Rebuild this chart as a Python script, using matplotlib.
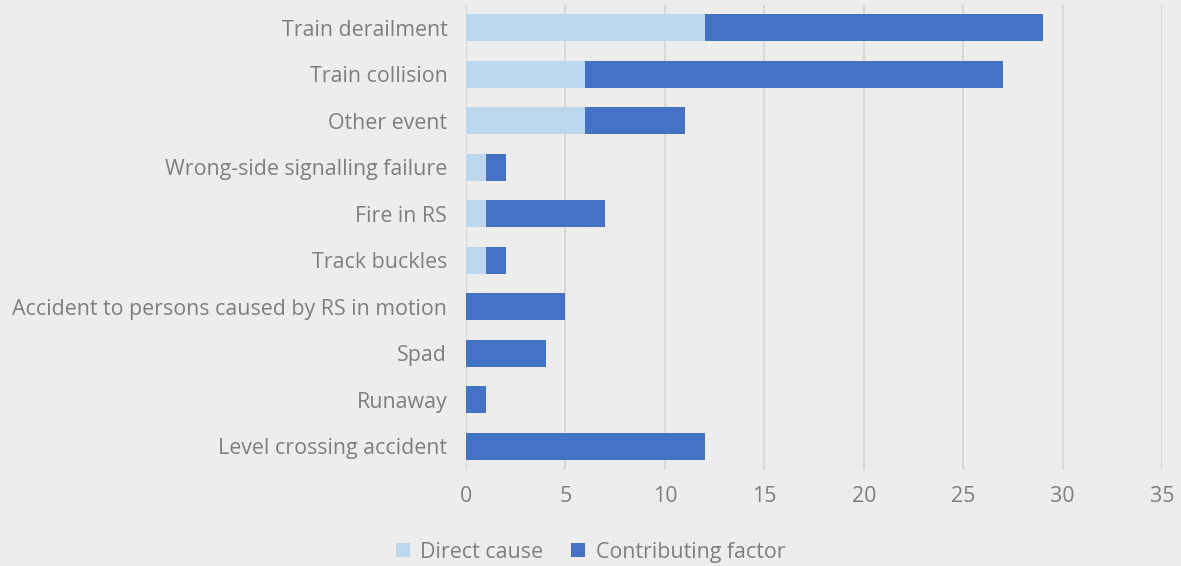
import matplotlib
matplotlib.use("Agg")
import matplotlib.pyplot as plt

categories = [
    "Train derailment",
    "Train collision",
    "Other event",
    "Wrong-side signalling failure",
    "Fire in RS",
    "Track buckles",
    "Accident to persons caused by RS in motion",
    "Spad",
    "Runaway",
    "Level crossing accident",
]
direct_cause = [12, 6, 6, 1, 1, 1, 0, 0, 0, 0]
contributing_factor = [17, 21, 5, 1, 6, 1, 5, 4, 1, 12]
x_ticks = [0, 5, 10, 15, 20, 25, 30, 35]

BG = "#EDEDED"
TEXT = "#7F7F7F"
LIGHT = "#BDD7EE"
DARK = "#4472C4"

plt.rcParams["font.family"] = ["Open Sans", "DejaVu Sans"]

fig = plt.figure(figsize=(11.81, 5.66), dpi=100, facecolor=BG)
ax = fig.add_axes([466 / 1181, 1 - 469.5 / 566, 696 / 1181, 465 / 566], facecolor=BG)

y = list(range(len(categories)))
ax.barh(y, direct_cause, height=0.58, color=LIGHT, label="Direct cause", zorder=3)
ax.barh(y, contributing_factor, left=direct_cause, height=0.58, color=DARK,
        label="Contributing factor", zorder=3)

ax.set_xlim(0, 35)
ax.set_ylim(len(categories) - 0.5, -0.5)
ax.set_xticks(x_ticks)
ax.set_yticks(y)
ax.set_yticklabels(categories)
ax.tick_params(axis="both", length=0, colors=TEXT, labelsize=15.4)
ax.tick_params(axis="y", pad=13.5)
ax.tick_params(axis="x", pad=12)
ax.grid(axis="x", color="#D9D9D9", linewidth=1.5, zorder=0)
for s in ax.spines.values():
    s.set_visible(False)

handles, labels = ax.get_legend_handles_labels()
fig.legend(handles, labels, loc="lower center", bbox_to_anchor=(0.5, -0.028), ncol=2,
           frameon=False, fontsize=15.4, labelcolor=TEXT, handlelength=0.65,
           handleheight=0.65, handletextpad=0.5, columnspacing=1.3)

fig.savefig("out.png", dpi=100, facecolor=BG)
